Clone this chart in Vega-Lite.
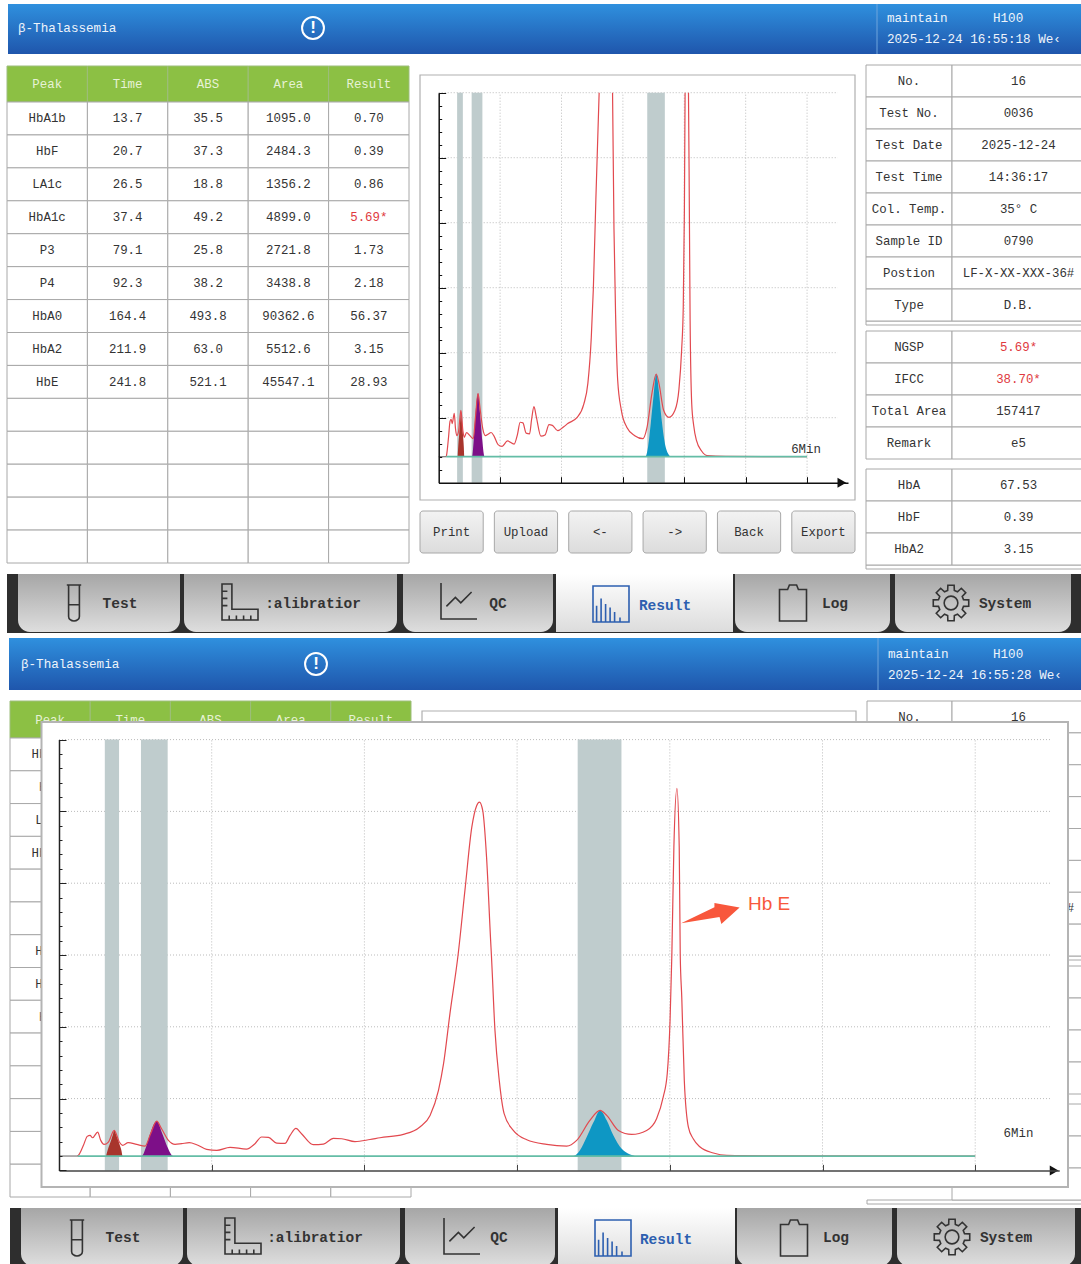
{"$schema":"https://vega.github.io/schema/vega-lite/v6.json","width":1081,"height":1264,"padding":0,"autosize":{"type":"none"},"background":"#ffffff","config":{"view":{"stroke":null},"text":{"font":"Liberation Mono","fontSize":12.4}},"resolve":{"scale":{"x":"independent","y":"independent"}},
"datasets":{"one":[{"item":"shape"}],
"curve":[{"time":7.2,"abs":0,"part":1},{"time":7.6,"abs":0.9,"part":1},{"time":9.6,"abs":14.9,"part":1},{"time":11.1,"abs":27.4,"part":1},{"time":12.2,"abs":28.8,"part":1},{"time":13.2,"abs":25.5,"part":1},{"time":15.2,"abs":33.4,"part":1},{"time":16.4,"abs":21.8,"part":1},{"time":17.7,"abs":16.2,"part":1},{"time":19.4,"abs":19.5,"part":1},{"time":21.7,"abs":35.7,"part":1},{"time":23.7,"abs":19.5,"part":1},{"time":25,"abs":14.9,"part":1},{"time":27.2,"abs":18.6,"part":1},{"time":30.5,"abs":16.2,"part":1},{"time":33.8,"abs":13.9,"part":1},{"time":36,"abs":31.1,"part":1},{"time":38.4,"abs":48.7,"part":1},{"time":40.3,"abs":38,"part":1},{"time":43,"abs":21.8,"part":1},{"time":45.6,"abs":16.2,"part":1},{"time":48.2,"abs":17.2,"part":1},{"time":51.2,"abs":18.6,"part":1},{"time":54.1,"abs":15.8,"part":1},{"time":58,"abs":9.3,"part":1},{"time":62,"abs":7.9,"part":1},{"time":67.2,"abs":12.1,"part":1},{"time":73.7,"abs":9.7,"part":1},{"time":77,"abs":17.2,"part":1},{"time":79.6,"abs":26.5,"part":1},{"time":82.3,"abs":26,"part":1},{"time":85.5,"abs":18.1,"part":1},{"time":88.8,"abs":17.6,"part":1},{"time":90.8,"abs":28.8,"part":1},{"time":93.1,"abs":38.5,"part":1},{"time":95.3,"abs":31.1,"part":1},{"time":99.9,"abs":15.8,"part":1},{"time":103.9,"abs":16.7,"part":1},{"time":107.8,"abs":24.6,"part":1},{"time":111.1,"abs":24.1,"part":1},{"time":116.3,"abs":20,"part":1},{"time":122.2,"abs":23,"part":1},{"time":126.1,"abs":25.5,"part":1},{"time":135.3,"abs":30.2,"part":1},{"time":141.8,"abs":40.4,"part":1},{"time":145.8,"abs":56.6,"part":1},{"time":149.1,"abs":91.5,"part":1},{"time":151.1,"abs":128.6,"part":1},{"time":153.6,"abs":198,"part":1},{"time":156.8,"abs":280,"part":1},{"time":159.5,"abs":370,"part":2},{"time":162.2,"abs":458,"part":2},{"time":164.1,"abs":488,"part":2},{"time":165.2,"abs":493,"part":2},{"time":166.5,"abs":481,"part":2},{"time":168,"abs":416,"part":2},{"time":169.6,"abs":300,"part":2},{"time":169.9,"abs":280,"part":2},{"time":171.3,"abs":175,"part":2},{"time":173,"abs":105,"part":2},{"time":174.9,"abs":59,"part":2},{"time":178.5,"abs":35.7,"part":2},{"time":183.8,"abs":22.7,"part":2},{"time":191.6,"abs":16.2,"part":2},{"time":199.5,"abs":13.9,"part":2},{"time":203.4,"abs":21.8,"part":2},{"time":208.6,"abs":49.7,"part":2},{"time":212.6,"abs":63.6,"part":2},{"time":215.2,"abs":56.6,"part":2},{"time":219.8,"abs":35.7,"part":2},{"time":225,"abs":30.2,"part":2},{"time":230.9,"abs":35.7,"part":2},{"time":234.8,"abs":52,"part":2},{"time":237.4,"abs":82,"part":2},{"time":239,"abs":115,"part":2},{"time":240.1,"abs":189,"part":2},{"time":240.8,"abs":280,"part":2},{"time":241.6,"abs":430,"part":3},{"time":242.8,"abs":512,"part":3},{"time":243.7,"abs":430,"part":3},{"time":244.1,"abs":280,"part":3},{"time":244.7,"abs":221,"part":3},{"time":245.7,"abs":105,"part":3},{"time":247.3,"abs":40.4,"part":3},{"time":249.2,"abs":24,"part":3},{"time":251.9,"abs":12.5,"part":3},{"time":257.1,"abs":4.2,"part":3},{"time":262.4,"abs":0.9,"part":3},{"time":280,"abs":0.3,"part":3},{"time":360,"abs":0,"part":3}],
"peaks":[{"peak":"HbF","time":18.5,"abs":0},{"peak":"HbF","time":19.1,"abs":8},{"peak":"HbF","time":20,"abs":17},{"peak":"HbF","time":21.1,"abs":29},{"peak":"HbF","time":21.7,"abs":35.7},{"peak":"HbF","time":22.5,"abs":29},{"peak":"HbF","time":23.7,"abs":17},{"peak":"HbF","time":24.5,"abs":8},{"peak":"HbF","time":25,"abs":0},{"peak":"HbA1c","time":32.5,"abs":0},{"peak":"HbA1c","time":34.2,"abs":12.5},{"peak":"HbA1c","time":35.8,"abs":31},{"peak":"HbA1c","time":38.4,"abs":48.7},{"peak":"HbA1c","time":40.6,"abs":31},{"peak":"HbA1c","time":42.6,"abs":12.5},{"peak":"HbA1c","time":44.9,"abs":0},{"peak":"HbA2","time":202.1,"abs":0},{"peak":"HbA2","time":204.7,"abs":8},{"peak":"HbA2","time":207.3,"abs":26},{"peak":"HbA2","time":210,"abs":47},{"peak":"HbA2","time":212.6,"abs":63.6},{"peak":"HbA2","time":215.2,"abs":50},{"peak":"HbA2","time":217.8,"abs":29},{"peak":"HbA2","time":221.1,"abs":10},{"peak":"HbA2","time":224.4,"abs":2},{"peak":"HbA2","time":226.3,"abs":0}],
"bands":[{"peak":"HbF","start":18,"end":23.6},{"peak":"HbA1c","start":32.2,"end":42.7},{"peak":"HbA2","start":203.8,"end":221}],
"minutes":[{"time":60},{"time":120},{"time":180},{"time":240},{"time":300},{"time":360}],
"gridSmall":[{"abs":30},{"abs":80},{"abs":130},{"abs":180},{"abs":230},{"abs":280}],
"gridBig":[{"abs":80},{"abs":180},{"abs":280},{"abs":380},{"abs":480},{"abs":580}],
"peakHeader":[{"col":"Peak"},{"col":"Time"},{"col":"ABS"},{"col":"Area"},{"col":"Result"}],
"peakTable":[{"row":1,"Peak":"HbA1b","Time":"13.7","ABS":"35.5","Area":"1095.0","Result":"0.70"},{"row":2,"Peak":"HbF","Time":"20.7","ABS":"37.3","Area":"2484.3","Result":"0.39"},{"row":3,"Peak":"LA1c","Time":"26.5","ABS":"18.8","Area":"1356.2","Result":"0.86"},{"row":4,"Peak":"HbA1c","Time":"37.4","ABS":"49.2","Area":"4899.0","Result":"5.69*"},{"row":5,"Peak":"P3","Time":"79.1","ABS":"25.8","Area":"2721.8","Result":"1.73"},{"row":6,"Peak":"P4","Time":"92.3","ABS":"38.2","Area":"3438.8","Result":"2.18"},{"row":7,"Peak":"HbA0","Time":"164.4","ABS":"493.8","Area":"90362.6","Result":"56.37"},{"row":8,"Peak":"HbA2","Time":"211.9","ABS":"63.0","Area":"5512.6","Result":"3.15"},{"row":9,"Peak":"HbE","Time":"241.8","ABS":"521.1","Area":"45547.1","Result":"28.93"},{"row":10,"Peak":"","Time":"","ABS":"","Area":"","Result":""},{"row":11,"Peak":"","Time":"","ABS":"","Area":"","Result":""},{"row":12,"Peak":"","Time":"","ABS":"","Area":"","Result":""},{"row":13,"Peak":"","Time":"","ABS":"","Area":"","Result":""},{"row":14,"Peak":"","Time":"","ABS":"","Area":"","Result":""}],
"info1":[{"row":1,"label":"No.","value":"16"},{"row":2,"label":"Test No.","value":"0036"},{"row":3,"label":"Test Date","value":"2025-12-24"},{"row":4,"label":"Test Time","value":"14:36:17"},{"row":5,"label":"Col. Temp.","value":"35° C"},{"row":6,"label":"Sample ID","value":"0790"},{"row":7,"label":"Postion","value":"LF-X-XX-XXX-36#"},{"row":8,"label":"Type","value":"D.B."}],
"info2":[{"row":1,"label":"NGSP","value":"5.69*"},{"row":2,"label":"IFCC","value":"38.70*"},{"row":3,"label":"Total Area","value":"157417"},{"row":4,"label":"Remark","value":"e5"}],
"info3":[{"row":1,"label":"HbA","value":"67.53"},{"row":2,"label":"HbF","value":"0.39"},{"row":3,"label":"HbA2","value":"3.15"}],
"buttons":[{"button":"Print"},{"button":"Upload"},{"button":"<-"},{"button":"->"},{"button":"Back"},{"button":"Export"}],
"tabs":[{"tab":"Test","slot":0,"from":0,"to":1,"text":"Test"},{"tab":"Calibration","slot":1,"from":2,"to":3,"text":":alibratior"},{"tab":"QC","slot":2,"from":4,"to":5,"text":"QC"},{"tab":"Result","slot":3,"from":6,"to":7,"text":"Result"},{"tab":"Log","slot":4,"from":8,"to":9,"text":"Log"},{"tab":"System","slot":5,"from":10,"to":11,"text":"System"}],
"headTop":[{"slot":0,"line":1,"text":"β-Thalassemia"},{"slot":1,"line":0,"text":"maintain"},{"slot":2,"line":0,"text":"H100"},{"slot":1,"line":2,"text":"2025-12-24 16:55:18 We‹"}],
"headBottom":[{"slot":0,"line":1,"text":"β-Thalassemia"},{"slot":1,"line":0,"text":"maintain"},{"slot":2,"line":0,"text":"H100"},{"slot":1,"line":2,"text":"2025-12-24 16:55:28 We‹"}],
"sixMin":[{"time":359,"abs":6,"text":"6Min"}],
"sixMinBig":[{"time":377,"abs":32,"text":"6Min"}],
"arrowSmall":[{"time":394,"abs":-20}],
"arrowBig":[{"time":391,"abs":-20}],
"callout":[{"time":279,"abs":351,"text":"Hb E"}],
"calloutArrow":[{"time":256,"abs":337}]},
"layer":[
{"data":{"name":"one"},"mark":{"type":"rect","fill":{"x1":0,"y1":0,"x2":0,"y2":1,"gradient":"linear","stops":[{"offset":0,"color":"#2f90de"},{"offset":1,"color":"#1f56ac"}]}},"encoding":{"x":{"datum":0,"type":"quantitative","axis":null,"scale":{"domain":[0,1],"range":[8,1081]}},"x2":{"datum":1},"y":{"datum":0,"type":"quantitative","axis":null,"scale":{"domain":[0,1],"range":[4,54]}},"y2":{"datum":1}}},
{"data":{"name":"one"},"mark":{"type":"rule","stroke":"#6ea5dc","strokeWidth":1},"encoding":{"x":{"datum":0,"type":"quantitative","axis":null,"scale":{"domain":[0,1],"range":[877,878]}},"y":{"datum":0,"type":"quantitative","axis":null,"scale":{"domain":[0,1],"range":[4,54]}},"y2":{"datum":1}}},
{"data":{"name":"headTop"},"mark":{"type":"text","align":"left","color":"#eef4fb","fontSize":12.6},"encoding":{"x":{"field":"slot","type":"quantitative","axis":null,"scale":{"domain":[0,1,2],"range":[18,887,993]}},"y":{"field":"line","type":"quantitative","axis":null,"scale":{"domain":[0,1,2],"range":[18,28,39]}},"text":{"field":"text"}}},
{"data":{"name":"one"},"encoding":{"x":{"datum":0,"type":"quantitative","axis":null,"scale":{"domain":[0,1],"range":[313,314]}},"y":{"datum":0,"type":"quantitative","axis":null,"scale":{"domain":[0,1],"range":[28,29]}}},"layer":[{"mark":{"type":"point","shape":"circle","size":480,"stroke":"#ffffff","strokeWidth":2,"filled":false,"opacity":1}},{"mark":{"type":"text","text":"!","color":"#ffffff","fontSize":17,"fontWeight":"bold","font":"Liberation Sans"}}]},
{"data":{"name":"peakHeader"},"encoding":{"x":{"field":"col","type":"nominal","axis":null,"scale":{"domain":["Peak","Time","ABS","Area","Result"],"range":[7,409],"paddingInner":0,"paddingOuter":0}}},"layer":[{"mark":{"type":"rect","fill":"#8cc044","stroke":"#9dbd7c"},"encoding":{"y":{"datum":0,"type":"quantitative","axis":null,"scale":{"domain":[0,1],"range":[66,102]}},"y2":{"datum":1}}},{"mark":{"type":"text","color":"#e7f2d6"},"encoding":{"y":{"datum":0.5,"type":"quantitative","axis":null,"scale":{"domain":[0,1],"range":[66,102]}},"text":{"field":"col"}}}]},
{"data":{"name":"peakTable"},"transform":[{"fold":["Peak","Time","ABS","Area","Result"],"as":["col","text"]}],"encoding":{"x":{"field":"col","type":"nominal","axis":null,"scale":{"domain":["Peak","Time","ABS","Area","Result"],"range":[7,409],"paddingInner":0,"paddingOuter":0}},"y":{"field":"row","type":"ordinal","axis":null,"scale":{"range":[102,563],"paddingInner":0,"paddingOuter":0}}},"layer":[{"mark":{"type":"rect","fill":"#ffffff","stroke":"#a8a8a8"}},{"mark":{"type":"text"},"encoding":{"text":{"field":"text"},"color":{"condition":{"test":"indexof(datum.text,'*')>=0","value":"#e0393e"},"value":"#333333"}}}]},
{"data":{"name":"one"},"mark":{"type":"rect","fill":"#ffffff","stroke":"#b0b0b0","strokeWidth":1.2},"encoding":{"x":{"datum":0,"type":"quantitative","axis":null,"scale":{"domain":[0,1],"range":[420,855]}},"x2":{"datum":1},"y":{"datum":0,"type":"quantitative","axis":null,"scale":{"domain":[0,1],"range":[75,500]}},"y2":{"datum":1}}},
{"layer":[
{"data":{"name":"gridSmall"},"mark":{"type":"rule","stroke":"#bbbbbb","strokeDash":[1,2]},"encoding":{"x":{"datum":0,"type":"quantitative","axis":null,"scale":{"domain":[0,400],"range":[438.7,848]}},"x2":{"datum":390},"y":{"field":"abs","type":"quantitative","axis":null,"scale":{"domain":[-20,280],"range":[482.7,92.7]}}}},
{"data":{"name":"minutes"},"mark":{"type":"rule","stroke":"#bbbbbb","strokeDash":[1,2]},"encoding":{"x":{"field":"time","type":"quantitative","axis":null,"scale":{"domain":[0,400],"range":[438.7,848]}},"y":{"datum":-20,"type":"quantitative","axis":null,"scale":{"domain":[-20,280],"range":[482.7,92.7]}},"y2":{"datum":280}}},
{"data":{"name":"bands"},"mark":{"type":"rect","fill":"#bfcccd"},"encoding":{"x":{"field":"start","type":"quantitative","axis":null,"scale":{"domain":[0,400],"range":[438.7,848]}},"x2":{"field":"end"},"y":{"datum":-20,"type":"quantitative","axis":null,"scale":{"domain":[-20,280],"range":[482.7,92.7]}},"y2":{"datum":280}}},
{"data":{"name":"peaks"},"mark":{"type":"area","interpolate":"monotone"},"encoding":{"x":{"field":"time","type":"quantitative","axis":null,"scale":{"domain":[0,400],"range":[438.7,848]}},"y":{"field":"abs","type":"quantitative","axis":null,"scale":{"domain":[-20,280],"range":[482.7,92.7]}},"color":{"field":"peak","type":"nominal","legend":null,"scale":{"domain":["HbF","HbA1c","HbA2"],"range":["#a8352c","#7d0f88","#0e97c4"]}}}},
{"data":{"name":"curve"},"transform":[{"filter":"datum.abs<=280"}],"mark":{"type":"line","interpolate":"monotone","stroke":"#e2494f","strokeWidth":1.2},"encoding":{"x":{"field":"time","type":"quantitative","axis":null,"scale":{"domain":[0,400],"range":[438.7,848]}},"y":{"field":"abs","type":"quantitative","axis":null,"scale":{"domain":[-20,280],"range":[482.7,92.7]}},"detail":{"field":"part"}}},
{"data":{"name":"one"},"mark":{"type":"rule","stroke":"#777777","strokeWidth":1.2},"encoding":{"x":{"datum":0,"type":"quantitative","axis":null,"scale":{"domain":[0,400],"range":[438.7,848]}},"x2":{"datum":7.4},"y":{"datum":0,"type":"quantitative","axis":null,"scale":{"domain":[-20,280],"range":[482.7,92.7]}}}},
{"data":{"name":"one"},"mark":{"type":"rule","stroke":"#64bda6","strokeWidth":1.8},"encoding":{"x":{"datum":7.4,"type":"quantitative","axis":null,"scale":{"domain":[0,400],"range":[438.7,848]}},"x2":{"datum":360},"y":{"datum":0,"type":"quantitative","axis":null,"scale":{"domain":[-20,280],"range":[482.7,92.7]}}}},
{"data":{"name":"sixMin"},"mark":{"type":"text","color":"#333333"},"encoding":{"x":{"field":"time","type":"quantitative","axis":null,"scale":{"domain":[0,400],"range":[438.7,848]}},"y":{"field":"abs","type":"quantitative","axis":null,"scale":{"domain":[-20,280],"range":[482.7,92.7]}},"text":{"field":"text"}}}
]},
{"data":{"name":"arrowSmall"},"mark":{"type":"point","shape":"triangle-right","filled":true,"color":"#111111","size":100,"opacity":1},"encoding":{"x":{"field":"time","type":"quantitative","axis":{"orient":"top","offset":-482.7,"values":[60,120,180,240,300,360],"labels":false,"title":null,"grid":false,"domainColor":"#111111","domainWidth":1.5,"tickColor":"#111111","tickWidth":1,"tickSize":6,"zindex":1},"scale":{"domain":[0,400],"range":[438.7,848]}},"y":{"field":"abs","type":"quantitative","axis":{"orient":"right","offset":-642.3,"values":[-20,-10,0,10,20,30,40,50,60,70,80,90,100,110,120,130,140,150,160,170,180,190,200,210,220,230,240,250,260,270,280],"labels":false,"title":null,"grid":false,"domainColor":"#111111","domainWidth":1.5,"tickColor":"#111111","tickWidth":1,"tickSize":{"condition":{"test":"(datum.value+20)%50==0","value":7},"value":3},"zindex":1},"scale":{"domain":[-20,280],"range":[482.7,92.7]}}}},
{"data":{"name":"buttons"},"encoding":{"x":{"field":"button","type":"nominal","axis":null,"scale":{"domain":["Print","Upload","<-","->","Back","Export"],"range":[420,855],"paddingInner":0.15,"paddingOuter":0}}},"layer":[{"mark":{"type":"rect","cornerRadius":3,"stroke":"#a8a8a8","fill":{"x1":0,"y1":0,"x2":0,"y2":1,"gradient":"linear","stops":[{"offset":0,"color":"#f3f3f3"},{"offset":1,"color":"#dcdcdc"}]}},"encoding":{"y":{"datum":0,"type":"quantitative","axis":null,"scale":{"domain":[0,1],"range":[511,553]}},"y2":{"datum":1}}},{"mark":{"type":"text","color":"#333333"},"encoding":{"y":{"datum":0.5,"type":"quantitative","axis":null,"scale":{"domain":[0,1],"range":[511,553]}},"text":{"field":"button"}}}]},
{"data":{"name":"one"},"mark":{"type":"rect","fill":"#ffffff","stroke":"#a8a8a8"},"encoding":{"x":{"datum":0,"type":"quantitative","axis":null,"scale":{"domain":[0,1],"range":[866,1085]}},"x2":{"datum":1},"y":{"datum":0,"type":"quantitative","axis":null,"scale":{"domain":[0,1],"range":[321,325]}},"y2":{"datum":1}}},
{"data":{"name":"one"},"mark":{"type":"rect","fill":"#ffffff","stroke":"#a8a8a8"},"encoding":{"x":{"datum":0,"type":"quantitative","axis":null,"scale":{"domain":[0,1],"range":[866,1085]}},"x2":{"datum":1},"y":{"datum":0,"type":"quantitative","axis":null,"scale":{"domain":[0,1],"range":[565,569]}},"y2":{"datum":1}}},
{"data":{"name":"info1"},"encoding":{"y":{"field":"row","type":"ordinal","axis":null,"scale":{"range":[65,321],"paddingInner":0,"paddingOuter":0}}},"layer":[{"mark":{"type":"rect","fill":"#ffffff","stroke":"#a8a8a8"},"encoding":{"x":{"datum":0,"type":"quantitative","axis":null,"scale":{"domain":[0,1,2],"range":[866,952,1085]}},"x2":{"datum":1}}},{"mark":{"type":"rect","fill":"#ffffff","stroke":"#a8a8a8"},"encoding":{"x":{"datum":1,"type":"quantitative","axis":null,"scale":{"domain":[0,1,2],"range":[866,952,1085]}},"x2":{"datum":2}}},{"mark":{"type":"text","color":"#333333"},"encoding":{"x":{"datum":0.5,"type":"quantitative","axis":null,"scale":{"domain":[0,1,2],"range":[866,952,1085]}},"text":{"field":"label"}}},{"mark":{"type":"text"},"encoding":{"x":{"datum":1.5,"type":"quantitative","axis":null,"scale":{"domain":[0,1,2],"range":[866,952,1085]}},"text":{"field":"value"},"color":{"condition":{"test":"indexof(datum.value,'*')>=0","value":"#e0393e"},"value":"#333333"}}}]},
{"data":{"name":"info2"},"encoding":{"y":{"field":"row","type":"ordinal","axis":null,"scale":{"range":[331,459],"paddingInner":0,"paddingOuter":0}}},"layer":[{"mark":{"type":"rect","fill":"#ffffff","stroke":"#a8a8a8"},"encoding":{"x":{"datum":0,"type":"quantitative","axis":null,"scale":{"domain":[0,1,2],"range":[866,952,1085]}},"x2":{"datum":1}}},{"mark":{"type":"rect","fill":"#ffffff","stroke":"#a8a8a8"},"encoding":{"x":{"datum":1,"type":"quantitative","axis":null,"scale":{"domain":[0,1,2],"range":[866,952,1085]}},"x2":{"datum":2}}},{"mark":{"type":"text","color":"#333333"},"encoding":{"x":{"datum":0.5,"type":"quantitative","axis":null,"scale":{"domain":[0,1,2],"range":[866,952,1085]}},"text":{"field":"label"}}},{"mark":{"type":"text"},"encoding":{"x":{"datum":1.5,"type":"quantitative","axis":null,"scale":{"domain":[0,1,2],"range":[866,952,1085]}},"text":{"field":"value"},"color":{"condition":{"test":"indexof(datum.value,'*')>=0","value":"#e0393e"},"value":"#333333"}}}]},
{"data":{"name":"info3"},"encoding":{"y":{"field":"row","type":"ordinal","axis":null,"scale":{"range":[469,565],"paddingInner":0,"paddingOuter":0}}},"layer":[{"mark":{"type":"rect","fill":"#ffffff","stroke":"#a8a8a8"},"encoding":{"x":{"datum":0,"type":"quantitative","axis":null,"scale":{"domain":[0,1,2],"range":[866,952,1085]}},"x2":{"datum":1}}},{"mark":{"type":"rect","fill":"#ffffff","stroke":"#a8a8a8"},"encoding":{"x":{"datum":1,"type":"quantitative","axis":null,"scale":{"domain":[0,1,2],"range":[866,952,1085]}},"x2":{"datum":2}}},{"mark":{"type":"text","color":"#333333"},"encoding":{"x":{"datum":0.5,"type":"quantitative","axis":null,"scale":{"domain":[0,1,2],"range":[866,952,1085]}},"text":{"field":"label"}}},{"mark":{"type":"text"},"encoding":{"x":{"datum":1.5,"type":"quantitative","axis":null,"scale":{"domain":[0,1,2],"range":[866,952,1085]}},"text":{"field":"value"},"color":{"condition":{"test":"indexof(datum.value,'*')>=0","value":"#e0393e"},"value":"#333333"}}}]},
{"data":{"name":"one"},"mark":{"type":"rect","fill":"#2e2e2e"},"encoding":{"x":{"datum":0,"type":"quantitative","axis":null,"scale":{"domain":[0,1],"range":[7,1081]}},"x2":{"datum":1},"y":{"datum":0,"type":"quantitative","axis":null,"scale":{"domain":[0,1],"range":[574,633]}},"y2":{"datum":1}}},
{"data":{"name":"tabs"},"encoding":{"x":{"field":"from","type":"quantitative","axis":null,"scale":{"domain":[0,1,2,3,4,5,6,7,8,9,10,11],"range":[18,180,184,397,403,553,556,733,735,890,895,1071]}},"x2":{"field":"to"},"y":{"datum":0,"type":"quantitative","axis":null,"scale":{"domain":[0,1],"range":[574,632]}},"y2":{"datum":1}},"layer":[{"transform":[{"filter":"datum.tab!='Result'"}],"mark":{"type":"rect","cornerRadiusBottomLeft":12,"cornerRadiusBottomRight":12,"fill":{"x1":0,"y1":0,"x2":0,"y2":1,"gradient":"linear","stops":[{"offset":0,"color":"#a6a6a6"},{"offset":1,"color":"#dedede"}]}}},{"transform":[{"filter":"datum.tab=='Result'"}],"mark":{"type":"rect","fill":{"x1":0,"y1":0,"x2":0,"y2":1,"gradient":"linear","stops":[{"offset":0,"color":"#ffffff"},{"offset":1,"color":"#dcdcdc"}]}}}]},
{"data":{"name":"tabs"},"mark":{"type":"text","font":"Liberation Mono","fontWeight":"bold","fontSize":14.5},"encoding":{"x":{"field":"slot","type":"quantitative","axis":null,"scale":{"domain":[0,1,2,3,4,5],"range":[120,313,498,665,835,1005]}},"y":{"field":"slot","type":"quantitative","axis":null,"scale":{"domain":[0,1,2,3,4,5],"range":[604,604,604,606,604,604]}},"text":{"field":"text"},"color":{"condition":{"test":"datum.tab=='Result'","value":"#2d5fb0"},"value":"#333333"}}},
{"data":{"name":"tabs"},"mark":{"type":"point","filled":false,"strokeWidth":1.6,"opacity":1,"size":1296},"encoding":{"x":{"field":"slot","type":"quantitative","axis":null,"scale":{"domain":[0,1,2,3,4,5],"range":[74,240,459,611,793,951]}},"y":{"field":"slot","type":"quantitative","axis":null,"scale":{"domain":[0,1,2,3,4,5],"range":[603,602,601,604,603,603]}},"shape":{"field":"tab","type":"nominal","legend":null,"scale":{"domain":["Test","Calibration","QC","Result","Log","System"],"range":["M-0.4,-1 H0.4 M-0.3,-1 V0.75 A0.3,0.25 0 0 0 0.3,0.75 V-1 M-0.3,0.1 H0.3","M-1,-1 H-0.45 V0.4 H1 V1 H-1 Z M-1,-0.6 H-0.7 M-1,-0.2 H-0.7 M-1,0.2 H-0.7 M-0.6,1 V0.75 M-0.2,1 V0.75 M0.2,1 V0.75 M0.6,1 V0.75","M-1,-1 V1 H1 M-0.7,0.3 L-0.2,-0.2 L0.1,0.1 L0.7,-0.5","M-1,-1 H1 V1 H-1 Z M-0.8,1 V0.1 M-0.55,1 V-0.3 M-0.3,1 V0 M-0.05,1 V0.2 M0.2,1 V0.45 M0.5,1 V0.75","M-0.75,-0.75 H-0.3 L-0.2,-1 H0.2 L0.3,-0.75 H0.75 V1 H-0.75 Z","M0.186,-0.695 L0.174,-0.985 L-0.174,-0.985 L-0.186,-0.695 L-0.36,-0.624 L-0.574,-0.819 L-0.819,-0.574 L-0.624,-0.36 L-0.695,-0.186 L-0.985,-0.174 L-0.985,0.174 L-0.695,0.186 L-0.624,0.36 L-0.819,0.574 L-0.574,0.819 L-0.36,0.624 L-0.186,0.695 L-0.174,0.985 L0.174,0.985 L0.186,0.695 L0.36,0.624 L0.574,0.819 L0.819,0.574 L0.624,0.36 L0.695,0.186 L0.985,0.174 L0.985,-0.174 L0.695,-0.186 L0.624,-0.36 L0.819,-0.574 L0.574,-0.819 L0.36,-0.624 Z M0.38,0 A0.38,0.38 0 1 1 -0.38,0 A0.38,0.38 0 1 1 0.38,0"]}},"color":{"condition":{"test":"datum.tab=='Result'","value":"#2d5fb0"},"value":"#333333"}}},
{"data":{"name":"one"},"mark":{"type":"rect","fill":{"x1":0,"y1":0,"x2":0,"y2":1,"gradient":"linear","stops":[{"offset":0,"color":"#2f90de"},{"offset":1,"color":"#1f56ac"}]}},"encoding":{"x":{"datum":0,"type":"quantitative","axis":null,"scale":{"domain":[0,1],"range":[9,1081]}},"x2":{"datum":1},"y":{"datum":0,"type":"quantitative","axis":null,"scale":{"domain":[0,1],"range":[638,690]}},"y2":{"datum":1}}},
{"data":{"name":"one"},"mark":{"type":"rule","stroke":"#6ea5dc","strokeWidth":1},"encoding":{"x":{"datum":0,"type":"quantitative","axis":null,"scale":{"domain":[0,1],"range":[878,879]}},"y":{"datum":0,"type":"quantitative","axis":null,"scale":{"domain":[0,1],"range":[638,690]}},"y2":{"datum":1}}},
{"data":{"name":"headBottom"},"mark":{"type":"text","align":"left","color":"#eef4fb","fontSize":12.6},"encoding":{"x":{"field":"slot","type":"quantitative","axis":null,"scale":{"domain":[0,1,2],"range":[21,888,993]}},"y":{"field":"line","type":"quantitative","axis":null,"scale":{"domain":[0,1,2],"range":[654,664,675]}},"text":{"field":"text"}}},
{"data":{"name":"one"},"encoding":{"x":{"datum":0,"type":"quantitative","axis":null,"scale":{"domain":[0,1],"range":[316,317]}},"y":{"datum":0,"type":"quantitative","axis":null,"scale":{"domain":[0,1],"range":[664,665]}}},"layer":[{"mark":{"type":"point","shape":"circle","size":480,"stroke":"#ffffff","strokeWidth":2,"filled":false,"opacity":1}},{"mark":{"type":"text","text":"!","color":"#ffffff","fontSize":17,"fontWeight":"bold","font":"Liberation Sans"}}]},
{"data":{"name":"peakHeader"},"encoding":{"x":{"field":"col","type":"nominal","axis":null,"scale":{"domain":["Peak","Time","ABS","Area","Result"],"range":[10,411],"paddingInner":0,"paddingOuter":0}}},"layer":[{"mark":{"type":"rect","fill":"#8cc044","stroke":"#9dbd7c"},"encoding":{"y":{"datum":0,"type":"quantitative","axis":null,"scale":{"domain":[0,1],"range":[701,738]}},"y2":{"datum":1}}},{"mark":{"type":"text","color":"#e7f2d6"},"encoding":{"y":{"datum":0.5,"type":"quantitative","axis":null,"scale":{"domain":[0,1],"range":[701,738]}},"text":{"field":"col"}}}]},
{"data":{"name":"peakTable"},"transform":[{"fold":["Peak","Time","ABS","Area","Result"],"as":["col","text"]}],"encoding":{"x":{"field":"col","type":"nominal","axis":null,"scale":{"domain":["Peak","Time","ABS","Area","Result"],"range":[10,411],"paddingInner":0,"paddingOuter":0}},"y":{"field":"row","type":"ordinal","axis":null,"scale":{"range":[738,1197],"paddingInner":0,"paddingOuter":0}}},"layer":[{"mark":{"type":"rect","fill":"#ffffff","stroke":"#a8a8a8"}},{"mark":{"type":"text"},"encoding":{"text":{"field":"text"},"color":{"condition":{"test":"indexof(datum.text,'*')>=0","value":"#e0393e"},"value":"#333333"}}}]},
{"data":{"name":"one"},"mark":{"type":"rect","fill":"#ffffff","stroke":"#b0b0b0","strokeWidth":1.2},"encoding":{"x":{"datum":0,"type":"quantitative","axis":null,"scale":{"domain":[0,1],"range":[422,856]}},"x2":{"datum":1},"y":{"datum":0,"type":"quantitative","axis":null,"scale":{"domain":[0,1],"range":[711,1135]}},"y2":{"datum":1}}},
{"data":{"name":"one"},"mark":{"type":"rect","fill":"#ffffff","stroke":"#a8a8a8"},"encoding":{"x":{"datum":0,"type":"quantitative","axis":null,"scale":{"domain":[0,1],"range":[867,1085]}},"x2":{"datum":1},"y":{"datum":0,"type":"quantitative","axis":null,"scale":{"domain":[0,1],"range":[956,960]}},"y2":{"datum":1}}},
{"data":{"name":"one"},"mark":{"type":"rect","fill":"#ffffff","stroke":"#a8a8a8"},"encoding":{"x":{"datum":0,"type":"quantitative","axis":null,"scale":{"domain":[0,1],"range":[867,1085]}},"x2":{"datum":1},"y":{"datum":0,"type":"quantitative","axis":null,"scale":{"domain":[0,1],"range":[1200,1204]}},"y2":{"datum":1}}},
{"data":{"name":"info1"},"encoding":{"y":{"field":"row","type":"ordinal","axis":null,"scale":{"range":[701,956],"paddingInner":0,"paddingOuter":0}}},"layer":[{"mark":{"type":"rect","fill":"#ffffff","stroke":"#a8a8a8"},"encoding":{"x":{"datum":0,"type":"quantitative","axis":null,"scale":{"domain":[0,1,2],"range":[867,952,1085]}},"x2":{"datum":1}}},{"mark":{"type":"rect","fill":"#ffffff","stroke":"#a8a8a8"},"encoding":{"x":{"datum":1,"type":"quantitative","axis":null,"scale":{"domain":[0,1,2],"range":[867,952,1085]}},"x2":{"datum":2}}},{"mark":{"type":"text","color":"#333333"},"encoding":{"x":{"datum":0.5,"type":"quantitative","axis":null,"scale":{"domain":[0,1,2],"range":[867,952,1085]}},"text":{"field":"label"}}},{"mark":{"type":"text"},"encoding":{"x":{"datum":1.5,"type":"quantitative","axis":null,"scale":{"domain":[0,1,2],"range":[867,952,1085]}},"text":{"field":"value"},"color":{"value":"#333333"}}}]},
{"data":{"name":"info2"},"mark":{"type":"rect","fill":"#ffffff","stroke":"#a8a8a8"},"encoding":{"x":{"datum":1,"type":"quantitative","axis":null,"scale":{"domain":[0,1,2],"range":[867,952,1085]}},"x2":{"datum":2},"y":{"field":"row","type":"ordinal","axis":null,"scale":{"range":[966,1094],"paddingInner":0,"paddingOuter":0}}}},
{"data":{"name":"info3"},"mark":{"type":"rect","fill":"#ffffff","stroke":"#a8a8a8"},"encoding":{"x":{"datum":1,"type":"quantitative","axis":null,"scale":{"domain":[0,1,2],"range":[867,952,1085]}},"x2":{"datum":2},"y":{"field":"row","type":"ordinal","axis":null,"scale":{"range":[1104,1200],"paddingInner":0,"paddingOuter":0}}}},
{"data":{"name":"one"},"mark":{"type":"rect","fill":"#2e2e2e"},"encoding":{"x":{"datum":0,"type":"quantitative","axis":null,"scale":{"domain":[0,1],"range":[10,1081]}},"x2":{"datum":1},"y":{"datum":0,"type":"quantitative","axis":null,"scale":{"domain":[0,1],"range":[1208,1264]}},"y2":{"datum":1}}},
{"data":{"name":"tabs"},"encoding":{"x":{"field":"from","type":"quantitative","axis":null,"scale":{"domain":[0,1,2,3,4,5,6,7,8,9,10,11],"range":[21,183,187,400,405,555,558,735,737,892,897,1075]}},"x2":{"field":"to"},"y":{"datum":0,"type":"quantitative","axis":null,"scale":{"domain":[0,1],"range":[1208,1266]}},"y2":{"datum":1}},"layer":[{"transform":[{"filter":"datum.tab!='Result'"}],"mark":{"type":"rect","cornerRadiusBottomLeft":12,"cornerRadiusBottomRight":12,"fill":{"x1":0,"y1":0,"x2":0,"y2":1,"gradient":"linear","stops":[{"offset":0,"color":"#a6a6a6"},{"offset":1,"color":"#dedede"}]}}},{"transform":[{"filter":"datum.tab=='Result'"}],"mark":{"type":"rect","fill":{"x1":0,"y1":0,"x2":0,"y2":1,"gradient":"linear","stops":[{"offset":0,"color":"#ffffff"},{"offset":1,"color":"#dcdcdc"}]}}}]},
{"data":{"name":"tabs"},"mark":{"type":"text","font":"Liberation Mono","fontWeight":"bold","fontSize":14.5},"encoding":{"x":{"field":"slot","type":"quantitative","axis":null,"scale":{"domain":[0,1,2,3,4,5],"range":[123,315,499,666,836,1006]}},"y":{"field":"slot","type":"quantitative","axis":null,"scale":{"domain":[0,1,2,3,4,5],"range":[1238,1238,1238,1240,1238,1238]}},"text":{"field":"text"},"color":{"condition":{"test":"datum.tab=='Result'","value":"#2d5fb0"},"value":"#333333"}}},
{"data":{"name":"tabs"},"mark":{"type":"point","filled":false,"strokeWidth":1.6,"opacity":1,"size":1296},"encoding":{"x":{"field":"slot","type":"quantitative","axis":null,"scale":{"domain":[0,1,2,3,4,5],"range":[77,243,462,613,794,952]}},"y":{"field":"slot","type":"quantitative","axis":null,"scale":{"domain":[0,1,2,3,4,5],"range":[1238,1236,1236,1238,1238,1237]}},"shape":{"field":"tab","type":"nominal","legend":null,"scale":{"domain":["Test","Calibration","QC","Result","Log","System"],"range":["M-0.4,-1 H0.4 M-0.3,-1 V0.75 A0.3,0.25 0 0 0 0.3,0.75 V-1 M-0.3,0.1 H0.3","M-1,-1 H-0.45 V0.4 H1 V1 H-1 Z M-1,-0.6 H-0.7 M-1,-0.2 H-0.7 M-1,0.2 H-0.7 M-0.6,1 V0.75 M-0.2,1 V0.75 M0.2,1 V0.75 M0.6,1 V0.75","M-1,-1 V1 H1 M-0.7,0.3 L-0.2,-0.2 L0.1,0.1 L0.7,-0.5","M-1,-1 H1 V1 H-1 Z M-0.8,1 V0.1 M-0.55,1 V-0.3 M-0.3,1 V0 M-0.05,1 V0.2 M0.2,1 V0.45 M0.5,1 V0.75","M-0.75,-0.75 H-0.3 L-0.2,-1 H0.2 L0.3,-0.75 H0.75 V1 H-0.75 Z","M0.186,-0.695 L0.174,-0.985 L-0.174,-0.985 L-0.186,-0.695 L-0.36,-0.624 L-0.574,-0.819 L-0.819,-0.574 L-0.624,-0.36 L-0.695,-0.186 L-0.985,-0.174 L-0.985,0.174 L-0.695,0.186 L-0.624,0.36 L-0.819,0.574 L-0.574,0.819 L-0.36,0.624 L-0.186,0.695 L-0.174,0.985 L0.174,0.985 L0.186,0.695 L0.36,0.624 L0.574,0.819 L0.819,0.574 L0.624,0.36 L0.695,0.186 L0.985,0.174 L0.985,-0.174 L0.695,-0.186 L0.624,-0.36 L0.819,-0.574 L0.574,-0.819 L0.36,-0.624 Z M0.38,0 A0.38,0.38 0 1 1 -0.38,0 A0.38,0.38 0 1 1 0.38,0"]}},"color":{"condition":{"test":"datum.tab=='Result'","value":"#2d5fb0"},"value":"#333333"}}},
{"data":{"name":"one"},"mark":{"type":"rect","fill":"#ffffff","stroke":"#b4b4b4","strokeWidth":2},"encoding":{"x":{"datum":0,"type":"quantitative","axis":null,"scale":{"domain":[0,1],"range":[41.5,1068]}},"x2":{"datum":1},"y":{"datum":0,"type":"quantitative","axis":null,"scale":{"domain":[0,1],"range":[722,1187]}},"y2":{"datum":1}}},
{"layer":[
{"data":{"name":"gridBig"},"mark":{"type":"rule","stroke":"#bbbbbb","strokeDash":[1,2]},"encoding":{"x":{"datum":0,"type":"quantitative","axis":null,"scale":{"domain":[0,393],"range":[59,1059.2]}},"x2":{"datum":390},"y":{"field":"abs","type":"quantitative","axis":null,"scale":{"domain":[-20,580],"range":[1170.4,739.6]}}}},
{"data":{"name":"minutes"},"mark":{"type":"rule","stroke":"#bbbbbb","strokeDash":[1,2]},"encoding":{"x":{"field":"time","type":"quantitative","axis":null,"scale":{"domain":[0,393],"range":[59,1059.2]}},"y":{"datum":-20,"type":"quantitative","axis":null,"scale":{"domain":[-20,580],"range":[1170.4,739.6]}},"y2":{"datum":580}}},
{"data":{"name":"bands"},"mark":{"type":"rect","fill":"#bfcccd"},"encoding":{"x":{"field":"start","type":"quantitative","axis":null,"scale":{"domain":[0,393],"range":[59,1059.2]}},"x2":{"field":"end"},"y":{"datum":-20,"type":"quantitative","axis":null,"scale":{"domain":[-20,580],"range":[1170.4,739.6]}},"y2":{"datum":580}}},
{"data":{"name":"peaks"},"mark":{"type":"area","interpolate":"monotone"},"encoding":{"x":{"field":"time","type":"quantitative","axis":null,"scale":{"domain":[0,393],"range":[59,1059.2]}},"y":{"field":"abs","type":"quantitative","axis":null,"scale":{"domain":[-20,580],"range":[1170.4,739.6]}},"color":{"field":"peak","type":"nominal","legend":null,"scale":{"domain":["HbF","HbA1c","HbA2"],"range":["#a8352c","#7d0f88","#0e97c4"]}}}},
{"data":{"name":"curve"},"mark":{"type":"line","interpolate":"monotone","stroke":"#e2494f","strokeWidth":1.2},"encoding":{"x":{"field":"time","type":"quantitative","axis":null,"scale":{"domain":[0,393],"range":[59,1059.2]}},"y":{"field":"abs","type":"quantitative","axis":null,"scale":{"domain":[-20,580],"range":[1170.4,739.6]}}}},
{"data":{"name":"one"},"mark":{"type":"rule","stroke":"#777777","strokeWidth":1.2},"encoding":{"x":{"datum":0,"type":"quantitative","axis":null,"scale":{"domain":[0,393],"range":[59,1059.2]}},"x2":{"datum":7.4},"y":{"datum":0,"type":"quantitative","axis":null,"scale":{"domain":[-20,580],"range":[1170.4,739.6]}}}},
{"data":{"name":"one"},"mark":{"type":"rule","stroke":"#64bda6","strokeWidth":1.8},"encoding":{"x":{"datum":7.4,"type":"quantitative","axis":null,"scale":{"domain":[0,393],"range":[59,1059.2]}},"x2":{"datum":360},"y":{"datum":0,"type":"quantitative","axis":null,"scale":{"domain":[-20,580],"range":[1170.4,739.6]}}}},
{"data":{"name":"sixMinBig"},"mark":{"type":"text","color":"#333333"},"encoding":{"x":{"field":"time","type":"quantitative","axis":null,"scale":{"domain":[0,393],"range":[59,1059.2]}},"y":{"field":"abs","type":"quantitative","axis":null,"scale":{"domain":[-20,580],"range":[1170.4,739.6]}},"text":{"field":"text"}}},
{"data":{"name":"callout"},"mark":{"type":"text","font":"Liberation Sans","fontSize":19,"color":"#f8573c"},"encoding":{"x":{"field":"time","type":"quantitative","axis":null,"scale":{"domain":[0,393],"range":[59,1059.2]}},"y":{"field":"abs","type":"quantitative","axis":null,"scale":{"domain":[-20,580],"range":[1170.4,739.6]}},"text":{"field":"text"}}},
{"data":{"name":"calloutArrow"},"mark":{"type":"point","filled":true,"color":"#f8573c","opacity":1,"size":3600,"shape":"M-0.98,0.31 L0.13,-0.23 L0.13,-0.37 L0.97,-0.22 L0.36,0.33 L0.3,0.1 Z"},"encoding":{"x":{"field":"time","type":"quantitative","axis":null,"scale":{"domain":[0,393],"range":[59,1059.2]}},"y":{"field":"abs","type":"quantitative","axis":null,"scale":{"domain":[-20,580],"range":[1170.4,739.6]}}}}
]},
{"data":{"name":"arrowBig"},"mark":{"type":"point","shape":"triangle-right","filled":true,"color":"#111111","size":100,"opacity":1},"encoding":{"x":{"field":"time","type":"quantitative","axis":{"orient":"top","offset":-1170.4,"values":[60,120,180,240,300,360],"labels":false,"title":null,"grid":false,"domainColor":"#444444","domainWidth":1.5,"tickColor":"#444444","tickWidth":1,"tickSize":6,"zindex":1},"scale":{"domain":[0,393],"range":[59,1059.2]}},"y":{"field":"abs","type":"quantitative","axis":{"orient":"right","offset":-1022,"values":[-20,0,20,40,60,80,100,120,140,160,180,200,220,240,260,280,300,320,340,360,380,400,420,440,460,480,500,520,540,560,580],"labels":false,"title":null,"grid":false,"domainColor":"#222222","domainWidth":1.5,"tickColor":"#222222","tickWidth":1,"tickSize":{"condition":{"test":"(datum.value+20)%100==0","value":7},"value":3},"zindex":1},"scale":{"domain":[-20,580],"range":[1170.4,739.6]}}}}
]}
